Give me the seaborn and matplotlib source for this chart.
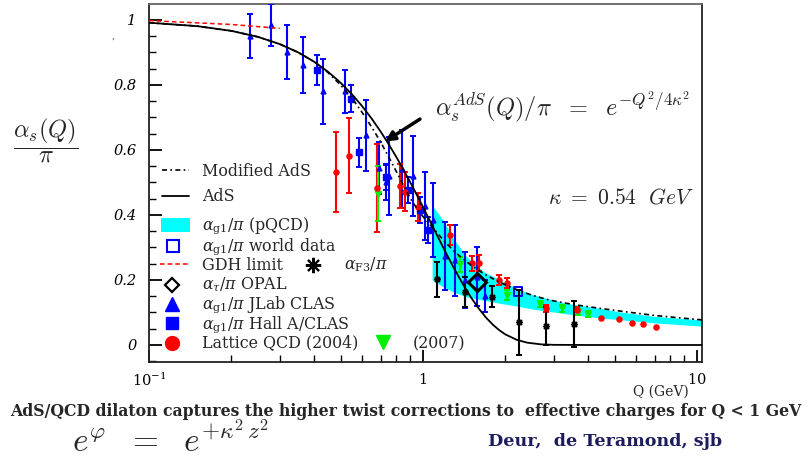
import numpy as np
import matplotlib
matplotlib.use('Agg')
import matplotlib.pyplot as plt
import seaborn as sns
from matplotlib.patches import Rectangle
from matplotlib.ticker import LogLocator, MultipleLocator, NullFormatter

# ---------------- data ----------------
ads_q = [0.1, 0.15, 0.2, 0.25, 0.3, 0.35, 0.4, 0.45, 0.5, 0.55, 0.6, 0.65, 0.7, 0.75, 0.8,
         0.85, 0.9, 0.95, 1.0, 1.1, 1.2, 1.3, 1.4, 1.5, 1.6, 1.7, 1.8, 1.9, 2.0, 2.2, 2.4,
         2.7, 3.0, 4.0, 10.5]
ads_y = [0.9915, 0.9809, 0.9663, 0.9478, 0.9257, 0.9003, 0.8718, 0.8406, 0.8071, 0.7716,
         0.7345, 0.6961, 0.6570, 0.6174, 0.5777, 0.5383, 0.4994, 0.4613, 0.4243, 0.3544,
         0.2910, 0.2348, 0.1863, 0.1453, 0.1114, 0.0839, 0.0622, 0.0453, 0.0324, 0.0158,
         0.0072, 0.0019, 0.0005, 0.0, 0.0]

mod_q = [0.1, 0.15, 0.2, 0.25, 0.3, 0.35, 0.4, 0.45, 0.5, 0.55, 0.6, 0.65, 0.7, 0.75, 0.8,
         0.85, 0.9, 0.95, 1.0, 1.1, 1.2, 1.3, 1.4, 1.5, 1.66, 1.9, 2.2, 2.5, 2.9, 3.5, 4.4,
         5.5, 7.0, 8.5, 10.5]
mod_y = [0.9915, 0.9809, 0.9663, 0.9478, 0.9257, 0.9003, 0.8718, 0.838, 0.80, 0.76, 0.715,
         0.67, 0.625, 0.578, 0.533, 0.49, 0.45, 0.42, 0.395, 0.355, 0.318, 0.288, 0.265,
         0.245, 0.22, 0.193, 0.17, 0.153, 0.138, 0.125, 0.113, 0.102, 0.091, 0.084, 0.077]

gdh_q = [0.1, 0.2, 0.3]
gdh_y = [0.998, 0.986, 0.974]

band_q = [1.08, 1.18, 1.29, 1.44, 1.66, 1.91, 2.2, 2.53, 3.34, 4.43, 5.2, 7.0, 10.5]
band_hi = [0.43, 0.385, 0.328, 0.272, 0.226, 0.20, 0.174, 0.154, 0.128, 0.113, 0.102, 0.088, 0.077]
band_lo = [0.20, 0.18, 0.163, 0.148, 0.138, 0.128, 0.12, 0.11, 0.096, 0.083, 0.078, 0.068, 0.058]

jlab_q = [0.234, 0.279, 0.318, 0.364, 0.433, 0.519, 0.620, 0.690, 0.735, 0.750, 0.836,
          0.922, 1.017, 1.090, 1.203, 1.309, 1.423, 1.570, 1.684]
jlab_y = [0.950, 0.985, 0.900, 0.860, 0.780, 0.780, 0.645, 0.545, 0.500, 0.520, 0.540,
          0.520, 0.428, 0.385, 0.274, 0.260, 0.200, 0.210, 0.150]
jlab_e = [0.068, 0.065, 0.083, 0.086, 0.100, 0.065, 0.110, 0.080, 0.055, 0.120, 0.120,
          0.123, 0.105, 0.113, 0.105, 0.110, 0.085, 0.090, 0.050]

halla_q = [0.409, 0.546, 0.584, 0.730, 0.884, 0.975, 1.045]
halla_y = [0.846, 0.758, 0.593, 0.518, 0.477, 0.415, 0.354]
halla_e = [0.045, 0.041, 0.045, 0.040, 0.040, 0.040, 0.040]

world_q = [2.22]
world_y = [0.164]

lat04_q = [0.481, 0.537, 0.680, 0.824, 0.860, 0.961, 1.255, 1.505, 1.600, 1.893, 2.020,
           2.810, 3.640, 4.470, 5.190, 5.810, 6.350, 7.100]
lat04_y = [0.533, 0.582, 0.482, 0.489, 0.472, 0.424, 0.338, 0.251, 0.253, 0.200, 0.190,
           0.113, 0.108, 0.083, 0.079, 0.068, 0.064, 0.056]
lat04_e = [0.123, 0.115, 0.135, 0.068, 0.060, 0.044, 0.031, 0.023, 0.025, 0.014, 0.015,
           0.010, 0.008, 0.0, 0.0, 0.0, 0.0, 0.0]

lat07_q = [0.683, 1.365, 2.030, 2.670, 3.220, 3.670, 4.010]
lat07_y = [0.465, 0.248, 0.154, 0.126, 0.113, 0.102, 0.095]
lat07_e = [0.085, 0.022, 0.015, 0.010, 0.010, 0.010, 0.010]

f3_q = [1.122, 1.423, 1.780, 2.240, 2.810, 3.550]
f3_y = [0.202, 0.164, 0.149, 0.070, 0.058, 0.065]
f3_e = [0.054, 0.046, 0.031, 0.100, 0.059, 0.070]

opal_q = [1.57]
opal_y = [0.193]

arrow_tip = (0.727, 0.626)
arrow_tail = (0.975, 0.695)

x_ticks = [0.1, 1, 10]
x_ticklabels = [r'$\mathit{10^{-1}}$', r'$\mathit{1}$', r'$\mathit{10}$']
y_ticks = [0, 0.2, 0.4, 0.6, 0.8, 1.0]
y_ticklabels = ['0', '0.2', '0.4', '0.6', '0.8', '1']

# ---------------- style ----------------
sns.set_style('ticks')
plt.rcParams['font.family'] = ['DejaVu Serif']
plt.rcParams['mathtext.fontset'] = 'cm'

W, H = 809, 462
fig = plt.figure(figsize=(W / 100, H / 100), dpi=100)
ax = fig.add_axes([149 / W, 1 - 362 / H, (702 - 149) / W, (362 - 4) / H])
ax.set_xscale('log')
ax.set_xlim(0.1, 10.43)
ax.set_ylim(-0.0523, 1.049)

BLUE = '#0000ff'
RED = '#ff0000'
GREEN = '#00ee00'
CYAN = '#00ffff'

# band
ax.fill_between(band_q, band_lo, band_hi, color=CYAN, lw=0, zorder=1)

# data points
ax.errorbar(jlab_q, jlab_y, yerr=jlab_e, fmt='^', color=BLUE, ms=3.5, elinewidth=1.5,
            capsize=2.5, capthick=1.4, zorder=3)
ax.errorbar(halla_q, halla_y, yerr=halla_e, fmt='s', color=BLUE, ms=4, elinewidth=1.5,
            capsize=2.5, capthick=1.4, zorder=3)
sns.scatterplot(x=world_q, y=world_y, ax=ax, marker='s', s=40, facecolor='none',
                edgecolor=BLUE, linewidth=1.4, zorder=3)

lq = np.array(lat04_q); ly = np.array(lat04_y); le = np.array(lat04_e)
m = le > 0
ax.errorbar(lq[m], ly[m], yerr=le[m], fmt='none', ecolor=RED, elinewidth=1.5,
            capsize=2.5, capthick=1.4, zorder=3)
sns.scatterplot(x=lat04_q, y=lat04_y, ax=ax, marker='o', s=22, color=RED,
                edgecolor=RED, linewidth=0, zorder=3.5)

ax.errorbar(lat07_q, lat07_y, yerr=lat07_e, fmt='v', color=GREEN, ms=5, elinewidth=1.5,
            capsize=2.5, capthick=1.4, zorder=3)

ax.errorbar(f3_q, f3_y, yerr=f3_e, fmt='none', ecolor='black', elinewidth=1.5,
            capsize=2.5, capthick=1.4, zorder=3)
ax.plot(f3_q, f3_y, ls='none', marker=(8, 2, 0), ms=5, mec='black', mew=1.0, zorder=3.5)

ax.plot(opal_q, opal_y, ls='none', marker='D', ms=9, mfc='none', mec='black', mew=2.2,
        zorder=5)

# curves
sns.lineplot(x=gdh_q, y=gdh_y, ax=ax, color=RED, lw=1.1, linestyle=(0, (3, 2)),
             estimator=None, sort=False, zorder=4)
sns.lineplot(x=mod_q, y=mod_y, ax=ax, color='black', lw=1.2, linestyle=(0, (3, 2, 1, 2)),
             estimator=None, sort=False, zorder=4)
sns.lineplot(x=ads_q, y=ads_y, ax=ax, color='black', lw=1.3,
             estimator=None, sort=False, zorder=4)

ax.annotate('', xy=arrow_tip, xytext=arrow_tail,
            arrowprops=dict(arrowstyle='-|>', color='black', lw=2.5, mutation_scale=14,
                            shrinkA=0, shrinkB=0), zorder=6)

# axes styling
for s in ax.spines.values():
    s.set_linewidth(1.3)
    s.set_color('#222222')
ax.spines['top'].set_color('#666666')
ax.set_xticks(x_ticks)
ax.set_xticklabels(x_ticklabels)
ax.xaxis.set_minor_locator(LogLocator(base=10, subs=np.arange(2, 10)))
ax.xaxis.set_minor_formatter(NullFormatter())
ax.set_yticks(y_ticks)
ax.set_yticklabels(y_ticklabels)
ax.yaxis.set_minor_locator(MultipleLocator(0.05))
ax.tick_params(axis='both', which='both', direction='in', top=False, right=False,
               colors='black', labelsize=10.5)
ax.tick_params(which='major', length=9, width=1.3)
ax.tick_params(which='minor', length=5, width=1.0)
ax.tick_params(axis='x', pad=7)
ax.tick_params(axis='y', pad=9)
for t in ax.get_yticklabels():
    t.set_fontstyle('italic')
for t in ax.get_xticklabels():
    t.set_math_fontfamily('dejavuserif')
ax.set_xlabel('')
ax.set_ylabel('')

# ---------------- legend (drawn by hand) ----------------
def axp(px, py):
    return ((px - 149) / 553, (362 - py) / 358)

tr = ax.transAxes
lx0, lx1 = axp(162, 0)[0], axp(189, 0)[0]
ax.plot([lx0, lx1], [axp(0, 170)[1]] * 2, transform=tr, color='black', lw=1.2,
        linestyle=(0, (3, 2, 1, 2)), clip_on=False)
ax.plot([lx0, lx1], [axp(0, 195.5)[1]] * 2, transform=tr, color='black', lw=1.3, clip_on=False)
rx, ry = axp(161, 232)
ax.add_patch(Rectangle((rx, ry), 29 / 553, 14 / 358, transform=tr, color=CYAN, lw=0))
ax.plot(*axp(172.5, 245.5), transform=tr, marker='s', ms=8.5, mfc='none', mec=BLUE, mew=1.5)
ax.plot([axp(160, 0)[0], axp(189, 0)[0]], [axp(0, 264.3)[1]] * 2, transform=tr, color=RED,
        lw=1.1, linestyle=(0, (3, 2)))
ax.plot(*axp(313, 264.5), transform=tr, marker=(8, 2, 0), ms=11, mec='black', mew=1.5)
ax.plot(*axp(172, 285), transform=tr, marker='D', ms=7.5, mfc='none', mec='black', mew=1.6)
ax.plot(*axp(172, 304), transform=tr, marker='^', ms=10, color=BLUE)
ax.plot(*axp(172, 323), transform=tr, marker='s', ms=9, color=BLUE)
ax.plot(*axp(172, 342.7), transform=tr, marker='o', ms=10, color=RED)
ax.plot(*axp(383, 342), transform=tr, marker='v', ms=9.5, color=GREEN)

leg_txt = [
    (201.7, 176, 'Modified AdS'),
    (201.7, 200.7, 'AdS'),
    (201.7, 229.5, r'$\alpha_{\rm g1}/\pi$ (pQCD)'),
    (201.7, 250.5, r'$\alpha_{\rm g1}/\pi$ world data'),
    (201.7, 269.8, 'GDH limit'),
    (344, 269.8, r'$\alpha_{\rm F3}/\pi$'),
    (201.7, 288.8, r'$\alpha_\tau/\pi$ OPAL'),
    (201.7, 308.3, r'$\alpha_{\rm g1}/\pi$ JLab CLAS'),
    (201.7, 328.3, r'$\alpha_{\rm g1}/\pi$ Hall A/CLAS'),
    (201.7, 347.3, 'Lattice QCD (2004)'),
    (413, 348.3, '(2007)'),
]
for px, py, s in leg_txt:
    ax.text(*axp(px, py), s, transform=tr, fontsize=11.4, va='baseline', ha='left',
            math_fontfamily='dejavuserif', zorder=7)

# ---------------- annotations / figure texts ----------------
def fxy(px, py):
    return (px / W, 1 - py / H)

fig.text(*fxy(435, 115), r'$\alpha_s^{AdS}(Q)/\pi\ \ =\ \ e^{-Q^2/4\kappa^2}$', fontsize=17.5,
         ha='left', va='baseline')
fig.text(*fxy(548, 203), r'$\kappa\ =\ 0.54\ \ GeV$', fontsize=15.5, ha='left', va='baseline')
fig.text(*fxy(46, 141), r'$\dfrac{\alpha_s(Q)}{\pi}$', fontsize=17.5, ha='center', va='center')
fig.text(*fxy(113, 36), ',', fontsize=7, color='#555555', ha='center', va='center')
fig.text(*fxy(661, 392), 'Q (GeV)', fontsize=10, ha='center', va='center')
fig.text(*fxy(406, 412),
         'AdS/QCD dilaton captures the higher twist corrections to  effective charges for Q < 1 GeV',
         fontsize=11.3, fontweight='bold', ha='center', va='center')
fig.text(*fxy(171, 440), r'$e^{\varphi}\ \ =\ \ e^{+\kappa^2\,z^2}$', fontsize=24, ha='center',
         va='center')
fig.text(*fxy(605, 441), 'Deur,  de Teramond, sjb', fontsize=12.6, fontweight='bold',
         color='#1b1b5e', ha='center', va='center')

fig.savefig('out.png', dpi=100)
